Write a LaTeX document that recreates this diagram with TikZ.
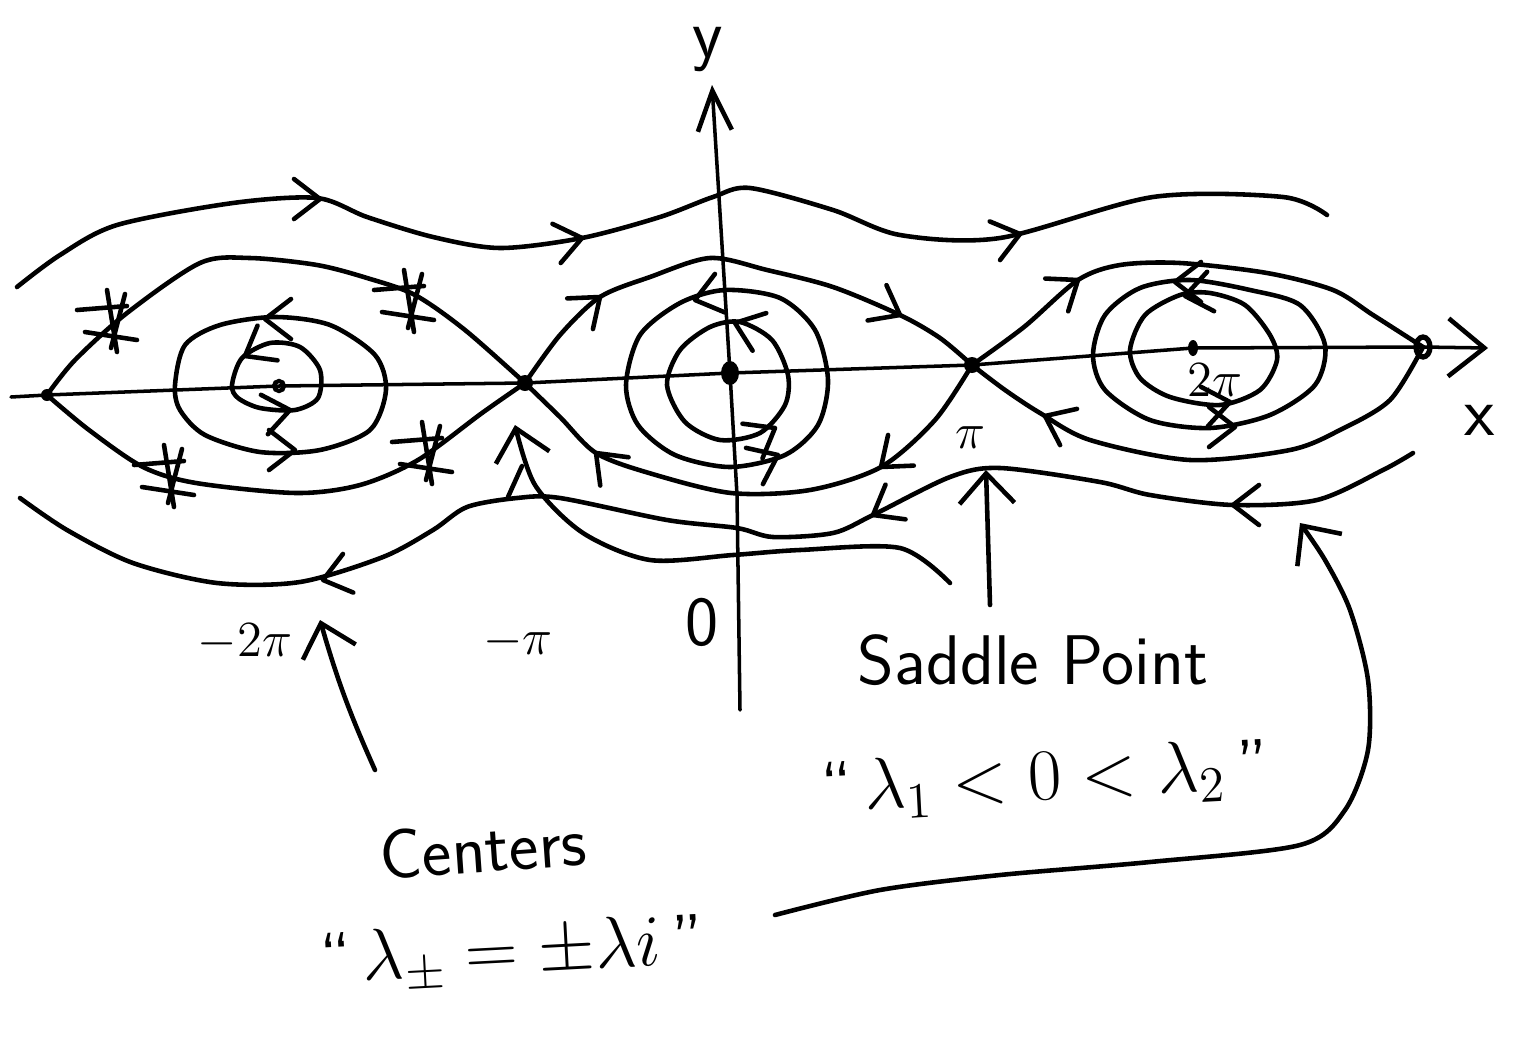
\documentclass[tikz,border=0pt]{standalone}
\usepackage{amsmath}
\usepackage{tikz}
\usetikzlibrary{arrows.meta}

\tikzset{
  barb/.pic={\draw[flow] (-0.26,0.2) -- (0,0) -- (-0.26,-0.2);},
  scratch/.pic={
    \draw[flow] (-0.38,0.1) -- (0.12,0.14);
    \draw[flow] (-0.08,0.3) -- (0.02,-0.32);
    \draw[flow] (0.1,0.26) -- (-0.04,-0.28);
    \draw[flow] (-0.3,-0.12) -- (0.22,-0.2);
  }
}

\begin{document}
\begin{tikzpicture}[
    flow/.style={line width=1.3pt, line cap=round, line join=round},
    axis/.style={line width=1pt, line cap=round},
    note/.style={flow, -{Straight Barb[length=3mm,width=5.5mm]}},
    lbl/.style={font=\sffamily\fontsize{15}{18}\selectfont, inner sep=1pt},
    big/.style={font=\sffamily\fontsize{20}{24}\selectfont, inner sep=1pt}
  ]
  \useasboundingbox (0,0) rectangle (15.3,-10.36);

  % Equilibria
  \coordinate (sL)  at (0.47,-3.95);
  \coordinate (cL)  at (2.79,-3.86);
  \coordinate (sM)  at (5.25,-3.83);
  \coordinate (c0)  at (7.30,-3.73);
  \coordinate (sR)  at (9.72,-3.65);
  \coordinate (cR)  at (11.93,-3.48);
  \coordinate (sRR) at (14.23,-3.47);

  % Axes
  \coordinate (xl) at (0.11,-3.97);
  \coordinate (xr) at (14.88,-3.48);
  \coordinate (yb) at (7.40,-7.10);
  \coordinate (yt) at (7.12,-0.85);
  \draw[axis, -{Straight Barb[length=3.6mm,width=5.8mm,line width=1.3pt]}]
    (xl) -- (sL) -- (cL) -- (sM) -- (c0) -- (sR) -- (cR) -- (sRR) -- (xr);
  \draw[axis, -{Straight Barb[length=4mm,width=3.4mm,line width=1.3pt]}]
    (yb) -- (7.37,-4.95) -- (c0) -- (yt);
  \node[big] (xlab) at (14.8,-4.2) {x};
  \node[big] (ylab) at (7.08,-0.5) {y};

  % Separatrices
  \draw[flow] plot[smooth] coordinates {(sL) (0.75,-3.6) (1.27,-3.13) (2.0,-2.63) (2.5,-2.58)
    (3.17,-2.65) (3.67,-2.78) (4.15,-2.95) (4.65,-3.3) (sM)};
  \draw[flow] plot[smooth] coordinates {(sL) (0.89,-4.3) (1.43,-4.67) (1.96,-4.83) (2.96,-4.93)
    (3.6,-4.85) (4.18,-4.6) (4.82,-4.13) (sM)};
  \draw[flow] plot[smooth] coordinates {(sM) (5.6,-3.35) (6.0,-2.97) (6.5,-2.77) (7.1,-2.58)
    (7.67,-2.7) (8.33,-2.87) (9.0,-3.15) (9.4,-3.38) (sR)};
  \draw[flow] plot[smooth] coordinates {(sM) (5.6,-4.17) (5.96,-4.53) (6.49,-4.73) (7.31,-4.93)
    (8.1,-4.9) (8.81,-4.67) (9.35,-4.2) (sR)};
  \draw[flow] plot[smooth] coordinates {(sR) (10.24,-3.27) (10.78,-2.8) (11.2,-2.65) (11.8,-2.63)
    (12.67,-2.73) (13.33,-2.9) (13.73,-3.15) (sRR)};
  \draw[flow] plot[smooth] coordinates {(sR) (10.05,-3.9) (10.4,-4.13) (10.9,-4.4) (11.9,-4.6)
    (12.9,-4.5) (13.4,-4.3) (13.9,-4.0) (sRR)};

  % Rotations above and below
  \draw[flow] plot[smooth] coordinates {(0.17,-2.87) (0.6,-2.55) (1.17,-2.25) (2.33,-2.03)
    (3.17,-1.98) (3.67,-2.17) (4.33,-2.37) (5.0,-2.48) (5.82,-2.38) (6.6,-2.17) (7.13,-1.97)
    (7.5,-1.88) (8.33,-2.1) (9.0,-2.35) (10.0,-2.38) (11.53,-1.97) (12.83,-1.97) (13.27,-2.15)};
  \draw[flow] plot[smooth] coordinates {(0.2,-4.98) (0.67,-5.3) (1.33,-5.63) (2.17,-5.83)
    (3.0,-5.82) (3.83,-5.57) (4.33,-5.3) (4.67,-5.07) (5.17,-4.98) (5.6,-4.98) (6.67,-5.2)
    (7.37,-5.28) (7.73,-5.37) (8.33,-5.33) (8.73,-5.15) (9.5,-4.77) (10.0,-4.68) (11.0,-4.82)
    (11.5,-4.95) (12.33,-5.05) (13.17,-5.0) (13.83,-4.7) (14.13,-4.53)};

  % Closed orbits
  \draw[flow] plot[smooth cycle] coordinates {(2.32,-3.85) (2.42,-3.58) (2.7,-3.43) (3.0,-3.47)
    (3.2,-3.7) (3.18,-3.98) (2.95,-4.1) (2.6,-4.08) (2.38,-3.98)};
  \draw[flow] plot[smooth cycle] coordinates {(1.75,-3.85) (1.85,-3.45) (2.2,-3.25) (2.75,-3.17)
    (3.3,-3.25) (3.75,-3.55) (3.86,-3.9) (3.7,-4.3) (3.2,-4.5) (2.6,-4.52) (2.05,-4.35) (1.8,-4.1)};
  \draw[flow] plot[smooth cycle] coordinates {(6.67,-3.85) (6.8,-3.5) (7.1,-3.27) (7.4,-3.22)
    (7.72,-3.4) (7.88,-3.75) (7.85,-4.05) (7.6,-4.33) (7.2,-4.4) (6.85,-4.22)};
  \draw[flow] plot[smooth cycle] coordinates {(6.26,-3.85) (6.4,-3.35) (6.8,-3.03) (7.25,-2.9)
    (7.8,-2.98) (8.15,-3.3) (8.28,-3.8) (8.18,-4.25) (7.85,-4.55) (7.3,-4.67) (6.75,-4.55) (6.38,-4.25)};
  \draw[flow] plot[smooth cycle] coordinates {(11.3,-3.5) (11.45,-3.15) (11.8,-2.95) (12.1,-2.93)
    (12.45,-3.05) (12.7,-3.35) (12.77,-3.6) (12.6,-3.9) (12.2,-4.05) (11.7,-3.97) (11.4,-3.78)};
  \draw[flow] plot[smooth cycle] coordinates {(10.93,-3.55) (11.05,-3.15) (11.4,-2.88) (11.9,-2.8)
    (12.5,-2.9) (13.0,-3.05) (13.25,-3.45) (13.15,-3.85) (12.7,-4.15) (12.1,-4.28) (11.5,-4.2) (11.05,-3.9)};

  % Flow arrows
  \foreach \p/\a in {{(3.2,-1.99)}/0, {(5.82,-2.38)}/12, {(10.2,-2.34)}/15,
      {(3.23,-5.8)}/195, {(8.73,-5.15)}/210, {(12.33,-5.05)}/180,
      {(6.0,-2.97)}/40, {(9.0,-3.15)}/-28, {(8.81,-4.67)}/220, {(5.96,-4.53)}/135,
      {(10.78,-2.8)}/35, {(10.45,-4.16)}/155,
      {(2.65,-3.19)}/180, {(2.95,-4.5)}/0, {(2.45,-3.56)}/210, {(2.9,-4.1)}/10,
      {(6.95,-3.0)}/195, {(7.35,-3.23)}/160, {(7.75,-4.28)}/30, {(7.78,-4.55)}/25,
      {(11.75,-2.82)}/180, {(11.85,-2.96)}/190, {(12.3,-4.02)}/10, {(12.35,-4.27)}/0}
    \pic[rotate=\a] at \p {barb};

  % Crossed out arrows
  \pic at (1.15,-3.2) {scratch};
  \pic at (4.12,-3.0) {scratch};
  \pic at (1.72,-4.75) {scratch};
  \pic at (4.3,-4.52) {scratch};

  % Equilibrium dots
  \fill (sL) circle (0.06);
  \fill (sM) circle (0.08);
  \fill (sR) circle (0.08);
  \fill (c0) ellipse (0.09 and 0.12);
  \fill (cR) ellipse (0.05 and 0.08);
  \draw[line width=1.2pt] (cL) circle (0.05);
  \draw[line width=1.5pt] (sRR) ellipse (0.07 and 0.1);

  % Axis labels
  \node[lbl] (lm2pi) at (2.45,-6.42) {$-2\pi$};
  \node[lbl] (lmpi) at (5.18,-6.42) {$-\pi$};
  \node[big] (lzero) at (7.02,-6.22) {0};
  \node[lbl] (lpi) at (9.7,-4.38) {$\pi$};
  \node[lbl] (l2pi) at (12.15,-3.8) {$2\pi$};

  % Saddle point note
  \node[big] (saddle) at (10.33,-6.6) {Saddle Point};
  \node[big, rotate=3] (saddleeq) at (10.45,-7.8) {``\,$\lambda_1 < 0 < \lambda_2$\,''};
  \coordinate (sTail) at (9.5,-5.83);
  \coordinate (sTip) at (5.15,-4.25);
  \draw[note] plot[smooth] coordinates {(sTail) (9.0,-5.48) (8.0,-5.5) (7.33,-5.55) (6.5,-5.6)
    (5.83,-5.33) (5.35,-4.85) (sTip)};
  \draw[flow] (5.08,-4.97) -- (5.22,-4.66);
  \coordinate (pTail) at (9.9,-6.05);
  \coordinate (pTip) at (9.86,-4.7);
  \draw[note] (pTail) -- (pTip);

  % Centers note
  \node[big, rotate=4] (centers) at (4.83,-8.48) {Centers};
  \node[big, rotate=3] (centerseq) at (5.12,-9.55) {``\,$\lambda_\pm = \pm\lambda i$\,''};
  \coordinate (cTail) at (3.75,-7.7);
  \coordinate (cTip) at (3.2,-6.2);
  \draw[note] (cTail) to[bend left=4] (cTip);
  \coordinate (rTail) at (7.75,-9.15);
  \coordinate (rTip) at (13.0,-5.23);
  \draw[note] plot[smooth] coordinates {(rTail) (8.8,-8.9) (10.0,-8.75) (11.5,-8.62) (13.0,-8.45)
    (13.45,-8.1) (13.68,-7.5) (13.68,-6.8) (13.5,-6.1) (13.25,-5.6) (rTip)};
\end{tikzpicture}
\end{document}
